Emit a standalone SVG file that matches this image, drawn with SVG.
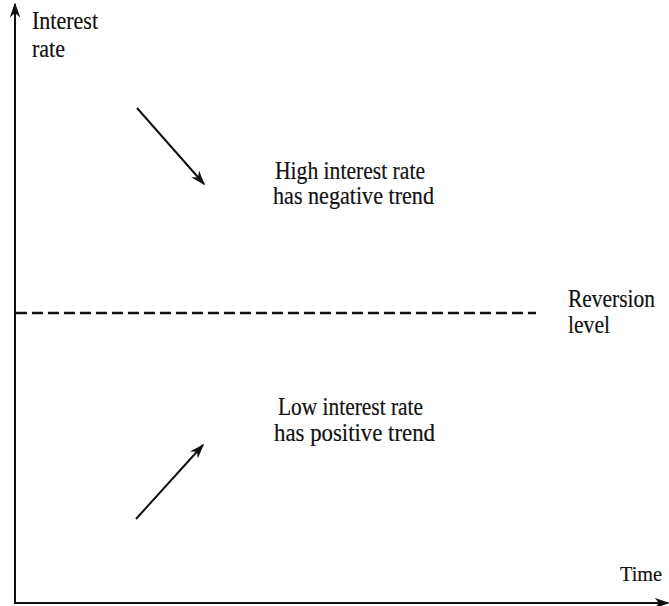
<svg xmlns="http://www.w3.org/2000/svg" width="669" height="606" viewBox="0 0 669 606">
<defs>
<style>
text{font-family:"Liberation Serif","Times New Roman",serif;font-size:25px;fill:#111;stroke:#111;stroke-width:0.2}
.ax{stroke:#111;stroke-width:2;fill:none}
.ar{stroke:#111;stroke-width:2;fill:none}
</style>
<marker id="ah2" viewBox="0 0 10 10" refX="9" refY="5" markerWidth="15" markerHeight="15" orient="auto" markerUnits="userSpaceOnUse">
<path d="M0,1.5 L10,5 L0,8.5 L3,5 z" fill="#111"/>
</marker>
</defs>
<rect width="669" height="606" fill="#fff"/>
<g id="connectors">
<path class="ax" d="M15,603 V4" marker-end="url(#ah2)"/>
<path class="ax" d="M14,603 H668" marker-end="url(#ah2)"/>
<path d="M16,313 H536" stroke="#111" stroke-width="2.6" stroke-dasharray="11,5" fill="none"/>
<path class="ar" d="M137,108 L204,184" marker-end="url(#ah2)"/>
<path class="ar" d="M136,519 L203,445" marker-end="url(#ah2)"/>
</g>
<g id="yaxis-label"><text x="32" y="29" textLength="66" lengthAdjust="spacingAndGlyphs">Interest</text><text x="32" y="57" textLength="33" lengthAdjust="spacingAndGlyphs">rate</text></g>
<g id="high"><text x="275" y="179" textLength="150" lengthAdjust="spacingAndGlyphs">High interest rate</text><text x="273" y="204" textLength="161" lengthAdjust="spacingAndGlyphs">has negative trend</text></g>
<g id="reversion"><text x="568" y="307" textLength="87" lengthAdjust="spacingAndGlyphs">Reversion</text><text x="568" y="333" textLength="42" lengthAdjust="spacingAndGlyphs">level</text></g>
<g id="low"><text x="278" y="415" textLength="145" lengthAdjust="spacingAndGlyphs">Low interest rate</text><text x="274" y="441" textLength="161" lengthAdjust="spacingAndGlyphs">has positive trend</text></g>
<g id="xaxis-label"><text x="620" y="581" style="font-size:22px" textLength="42" lengthAdjust="spacingAndGlyphs">Time</text></g>
</svg>
